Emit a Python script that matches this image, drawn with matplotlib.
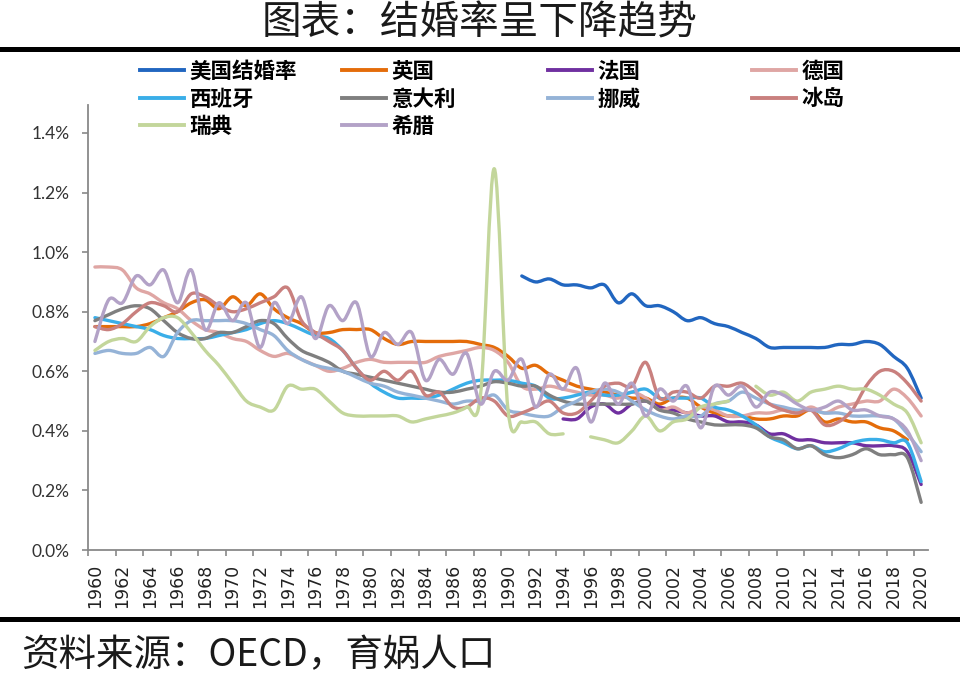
import numpy as np
import matplotlib
matplotlib.use("Agg")
import matplotlib.pyplot as plt
from matplotlib.path import Path
from matplotlib.patches import PathPatch
from matplotlib.lines import Line2D
from matplotlib.font_manager import FontProperties

plt.rcParams['font.family'] = ['Noto Sans CJK SC', 'DejaVu Sans']

# 结婚率（%），按年份
years = list(range(1960, 2021))

usa_start = 1991
usa = [0.92, 0.90, 0.91, 0.89, 0.89, 0.88, 0.89, 0.83, 0.86, 0.82,
       0.82, 0.80, 0.77, 0.78, 0.76, 0.75, 0.73, 0.71, 0.68, 0.68,
       0.68, 0.68, 0.68, 0.69, 0.69, 0.70, 0.69, 0.65, 0.61, 0.51]

uk_start = 1960
uk = [0.75, 0.75, 0.75, 0.75, 0.76, 0.78, 0.80, 0.83, 0.84, 0.81,
      0.85, 0.82, 0.86, 0.81, 0.78, 0.76, 0.73, 0.73, 0.74, 0.74,
      0.74, 0.71, 0.69, 0.70, 0.70, 0.70, 0.70, 0.70, 0.69, 0.68,
      0.65, 0.61, 0.62, 0.59, 0.57, 0.55, 0.54, 0.53, 0.52, 0.51,
      0.51, 0.49, 0.51, 0.51, 0.48, 0.46, 0.45, 0.45, 0.44, 0.44,
      0.45, 0.45, 0.47, 0.43, 0.44, 0.43, 0.43, 0.41, 0.40, 0.37]

france_start = 1994
france = [0.44, 0.44, 0.48, 0.49, 0.46, 0.49, 0.50, 0.48, 0.47, 0.46,
          0.45, 0.45, 0.43, 0.43, 0.42, 0.39, 0.39, 0.37, 0.37, 0.36,
          0.36, 0.36, 0.35, 0.35, 0.35, 0.33, 0.22]

germany_start = 1960
germany = [0.95, 0.95, 0.94, 0.88, 0.86, 0.83, 0.81, 0.77, 0.74, 0.73,
           0.71, 0.70, 0.67, 0.65, 0.66, 0.64, 0.62, 0.60, 0.61, 0.63,
           0.64, 0.63, 0.63, 0.63, 0.63, 0.65, 0.66, 0.67, 0.68, 0.67,
           0.63, 0.55, 0.54, 0.55, 0.54, 0.53, 0.52, 0.52, 0.51, 0.53,
           0.51, 0.47, 0.48, 0.46, 0.48, 0.47, 0.45, 0.45, 0.46, 0.46,
           0.47, 0.46, 0.48, 0.46, 0.48, 0.49, 0.50, 0.50, 0.54, 0.51, 0.45]

spain_start = 1960
spain = [0.78, 0.77, 0.76, 0.75, 0.74, 0.72, 0.71, 0.71, 0.71, 0.72,
         0.73, 0.74, 0.76, 0.77, 0.76, 0.74, 0.72, 0.71, 0.67, 0.61,
         0.56, 0.53, 0.51, 0.51, 0.51, 0.52, 0.54, 0.56, 0.57, 0.57,
         0.57, 0.56, 0.55, 0.51, 0.51, 0.52, 0.53, 0.52, 0.52, 0.53,
         0.54, 0.51, 0.51, 0.51, 0.51, 0.48, 0.47, 0.45, 0.42, 0.38,
         0.36, 0.34, 0.35, 0.33, 0.34, 0.36, 0.37, 0.37, 0.36, 0.36, 0.23]

italy_start = 1960
italy = [0.77, 0.79, 0.81, 0.82, 0.81, 0.77, 0.73, 0.71, 0.71, 0.73,
         0.73, 0.75, 0.77, 0.76, 0.71, 0.67, 0.65, 0.63, 0.60, 0.59,
         0.58, 0.57, 0.56, 0.55, 0.54, 0.53, 0.53, 0.54, 0.55, 0.565,
         0.56, 0.55, 0.55, 0.52, 0.50, 0.49, 0.49, 0.49, 0.49, 0.49,
         0.50, 0.47, 0.46, 0.44, 0.43, 0.42, 0.42, 0.42, 0.41, 0.38,
         0.37, 0.34, 0.35, 0.32, 0.31, 0.32, 0.34, 0.32, 0.32, 0.31, 0.16]

norway_start = 1960
norway = [0.66, 0.67, 0.66, 0.66, 0.68, 0.65, 0.73, 0.77, 0.77, 0.77,
          0.77, 0.76, 0.74, 0.72, 0.67, 0.64, 0.62, 0.61, 0.60, 0.58,
          0.56, 0.55, 0.53, 0.52, 0.51, 0.50, 0.49, 0.50, 0.50, 0.52,
          0.47, 0.46, 0.45, 0.45, 0.48, 0.50, 0.53, 0.54, 0.53, 0.50,
          0.47, 0.45, 0.44, 0.45, 0.45, 0.49, 0.50, 0.53, 0.51, 0.49,
          0.48, 0.47, 0.47, 0.46, 0.46, 0.45, 0.45, 0.45, 0.44, 0.39, 0.33]

iceland_start = 1960
iceland = [0.75, 0.74, 0.76, 0.80, 0.83, 0.82, 0.80, 0.86, 0.85, 0.82,
           0.80, 0.81, 0.83, 0.85, 0.88, 0.77, 0.73, 0.70, 0.67, 0.61,
           0.57, 0.60, 0.57, 0.60, 0.52, 0.53, 0.48, 0.48, 0.51, 0.50,
           0.45, 0.46, 0.48, 0.50, 0.46, 0.46, 0.50, 0.55, 0.56, 0.55,
           0.63, 0.51, 0.53, 0.53, 0.51, 0.55, 0.55, 0.56, 0.53, 0.49,
           0.47, 0.46, 0.47, 0.42, 0.43, 0.47, 0.55, 0.60, 0.60, 0.56, 0.50]

sweden_start = 1960
sweden = [0.67, 0.70, 0.71, 0.70, 0.75, 0.78, 0.78, 0.73, 0.67, 0.62,
          0.56, 0.50, 0.48, 0.47, 0.55, 0.54, 0.54, 0.50, 0.46, 0.45,
          0.45, 0.45, 0.45, 0.43, 0.44, 0.45, 0.46, 0.48, 0.52, 1.28,
          0.47, 0.43, 0.43, 0.39, 0.39, None, 0.38, 0.37, 0.36, 0.40,
          0.45, 0.40, 0.43, 0.44, 0.48, 0.49, 0.50, None, 0.55, 0.52,
          0.53, 0.50, 0.53, 0.54, 0.55, 0.54, 0.54, 0.52, 0.49, 0.46, 0.36]

greece_start = 1960
greece = [0.70, 0.84, 0.83, 0.92, 0.89, 0.94, 0.83, 0.94, 0.74, 0.83,
          0.77, 0.83, 0.68, 0.83, 0.76, 0.85, 0.71, 0.82, 0.77, 0.83,
          0.65, 0.73, 0.69, 0.73, 0.57, 0.64, 0.59, 0.66, 0.49, 0.60,
          0.57, 0.64, 0.48, 0.59, 0.54, 0.61, 0.43, 0.56, 0.49, 0.56,
          0.45, 0.54, 0.50, 0.55, 0.41, 0.55, 0.52, 0.55, 0.48, 0.53,
          0.52, 0.49, 0.47, 0.48, 0.50, 0.47, 0.47, 0.45, 0.44, 0.40, 0.30]

labels = ['美国结婚率', '英国', '法国', '德国', '西班牙',
          '意大利', '挪威', '冰岛', '瑞典', '希腊']
series = [(usa_start, usa), (uk_start, uk), (france_start, france),
          (germany_start, germany), (spain_start, spain),
          (italy_start, italy), (norway_start, norway),
          (iceland_start, iceland), (sweden_start, sweden),
          (greece_start, greece)]
colors = ['#2166C0', '#E46C0A', '#7030A0', '#DFA6A4', '#3AAEE8',
          '#7F7F7F', '#95B3D7', '#C9807E', '#C3D69B', '#B3A2C7']

even_years = years[::2]
y_ticks = [0.0, 0.2, 0.4, 0.6, 0.8, 1.0, 1.2, 1.4]


def smooth_path(start, values):
    """平滑曲线（类似 Excel 的平滑线），遇到缺失值断开"""
    runs, run = [], []
    for i, v in enumerate(values):
        if v is None:
            if run:
                runs.append(run)
            run = []
        else:
            run.append((start + i, v))
    if run:
        runs.append(run)

    verts, codes = [], []
    for r in runs:
        p = np.array(r, dtype=float)
        n = len(p)
        verts.append(p[0])
        codes.append(Path.MOVETO)
        for i in range(n - 1):
            p0 = p[i - 1] if i > 0 else p[i]
            p3 = p[i + 2] if i + 2 < n else p[i + 1]
            c1 = p[i] + (p[i + 1] - p0) / 6
            c2 = p[i + 1] - (p3 - p[i]) / 6
            verts += [c1, c2, p[i + 1]]
            codes += [Path.CURVE4] * 3
    return Path(verts, codes)


fig = plt.figure(figsize=(9.6, 6.83), dpi=100)
ax = fig.add_axes([0.0917, 0.1947, 0.875, 0.6516])

for (start, vals), color in zip(series, colors):
    patch = PathPatch(smooth_path(start, vals), fill=False, edgecolor=color,
                      lw=2.4, capstyle='round', joinstyle='round')
    ax.add_patch(patch)

ax.set_xlim(1959.5, 2020.5)
ax.set_ylim(0, 1.494)

for side in ['top', 'right']:
    ax.spines[side].set_visible(False)
for side in ['left', 'bottom']:
    ax.spines[side].set_color('#898989')
    ax.spines[side].set_linewidth(1.3)

ax.set_yticks(y_ticks)
ax.set_yticklabels([f'{v:.1f}%' for v in y_ticks], family='Lato',
                   fontsize=12.5, color='#333333')
ax.tick_params(axis='y', direction='out', length=4.5, width=1.2,
               color='#898989', pad=9)

ax.set_xticks(np.arange(1959.5, 2020, 2))
ax.set_xticklabels([])
ax.set_xticks(even_years, minor=True)
ax.set_xticklabels([str(y) for y in even_years], minor=True, rotation=90,
                   family='DejaVu Sans', fontsize=12.5, color='#222222')
ax.tick_params(axis='x', which='major', direction='out', length=4.5,
               width=1.2, color='#898989')
ax.tick_params(axis='x', which='minor', length=0, pad=10)

# 图例：按行排列的四列
leg_font = FontProperties(family=['Noto Sans CJK SC', 'DejaVu Sans'],
                          weight='bold', size=15.5)
col_x = [140, 342, 548, 752]
for c in range(4):
    idx = list(range(c, len(labels), 4))
    handles = [Line2D([], [], color=colors[i], lw=2.8) for i in idx]
    fig.legend(handles, [labels[i] for i in idx], loc='upper left',
               bbox_to_anchor=(col_x[c] / 960, 1 - 61 / 683),
               frameon=False, prop=leg_font, handlelength=2.05,
               handletextpad=0.25, labelspacing=0.3, borderpad=0,
               borderaxespad=0)

fig.text(0.5, 1 - 23 / 683, '图表：结婚率呈下降趋势', ha='center',
         va='center', fontsize=28.5, color='#1a1a1a')
fig.add_artist(Line2D([0, 1], [1 - 49 / 683] * 2, color='black', lw=3.6,
                      transform=fig.transFigure))
fig.add_artist(Line2D([0, 1], [1 - 619 / 683] * 2, color='black', lw=3.6,
                      transform=fig.transFigure))
fig.text(21 / 960, 1 - 656 / 683, '资料来源：OECD，育娲人口', ha='left',
         va='center', fontsize=27, style='italic', color='#1a1a1a')

fig.savefig('out.png', dpi=100)
